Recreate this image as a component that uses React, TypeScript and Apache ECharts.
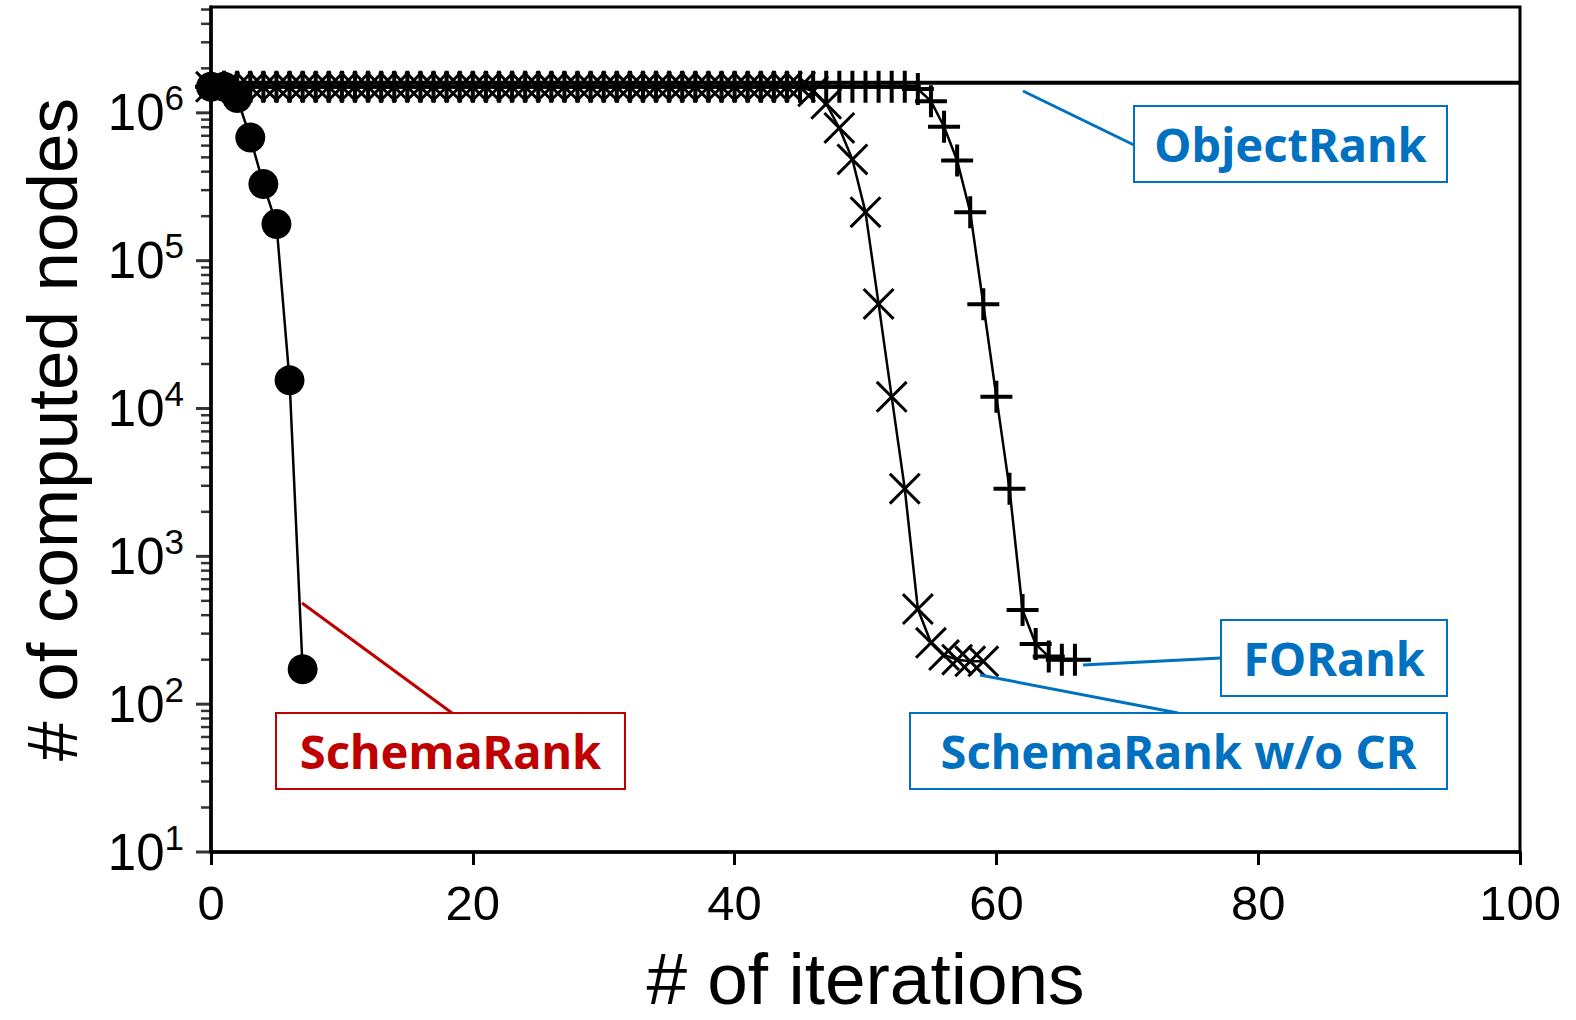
import React, { useEffect, useRef } from 'react';
import * as echarts from 'echarts';

// ---------- data ----------
const objectRankX = [0, 100];
const objectRankY = [1600000, 1600000];

const schemaRankX = [0, 1, 2, 3, 4, 5, 6, 7];
const schemaRankY = [1500000, 1500000, 1260000, 680000, 330000, 177000, 15500, 172];

const woCrX = [
  0, 1, 2, 3, 4, 5, 6, 7, 8, 9, 10, 11, 12, 13, 14, 15, 16, 17, 18, 19,
  20, 21, 22, 23, 24, 25, 26, 27, 28, 29, 30, 31, 32, 33, 34, 35, 36, 37, 38, 39,
  40, 41, 42, 43, 44, 45, 46, 47, 48, 49, 50, 51, 52, 53, 54, 55, 56, 57, 58, 59,
];
const woCrY = [
  1500000, 1500000, 1500000, 1500000, 1500000, 1500000, 1500000, 1500000, 1500000, 1500000,
  1500000, 1500000, 1500000, 1500000, 1500000, 1500000, 1500000, 1500000, 1500000, 1500000,
  1500000, 1500000, 1500000, 1500000, 1500000, 1500000, 1500000, 1500000, 1500000, 1500000,
  1500000, 1500000, 1500000, 1500000, 1500000, 1500000, 1500000, 1500000, 1500000, 1500000,
  1500000, 1500000, 1500000, 1500000, 1500000, 1500000, 1400000, 1150000, 790000, 484000,
  213000, 51000, 12000, 2870, 440, 260, 215, 200, 195, 195,
];

const foRankX = [
  0, 1, 2, 3, 4, 5, 6, 7, 8, 9, 10, 11, 12, 13, 14, 15, 16, 17, 18, 19,
  20, 21, 22, 23, 24, 25, 26, 27, 28, 29, 30, 31, 32, 33, 34, 35, 36, 37, 38, 39,
  40, 41, 42, 43, 44, 45, 46, 47, 48, 49, 50, 51, 52, 53, 54, 55, 56, 57, 58, 59,
  60, 61, 62, 63, 64, 65, 66,
];
const foRankY = [
  1500000, 1500000, 1500000, 1500000, 1500000, 1500000, 1500000, 1500000, 1500000, 1500000,
  1500000, 1500000, 1500000, 1500000, 1500000, 1500000, 1500000, 1500000, 1500000, 1500000,
  1500000, 1500000, 1500000, 1500000, 1500000, 1500000, 1500000, 1500000, 1500000, 1500000,
  1500000, 1500000, 1500000, 1500000, 1500000, 1500000, 1500000, 1500000, 1500000, 1500000,
  1500000, 1500000, 1500000, 1500000, 1500000, 1500000, 1500000, 1500000, 1500000, 1500000,
  1500000, 1500000, 1500000, 1500000, 1450000, 1200000, 805000, 476000, 213000, 50700,
  12000, 2870, 434, 255, 210, 200, 200,
];

const xTicks = [0, 20, 40, 60, 80, 100];
const yMajorTicks = [10, 100, 1000, 10000, 100000, 1000000];
const yMinorMultipliers = [2, 3, 4, 5, 6, 7, 8, 9];

const xTitle = '# of iterations';
const yTitle = '# of computed nodes';

// ---------- layout / styles ----------
const FONT = "'Liberation Sans', Arial, sans-serif";
const ANN_FONT = "'Noto Sans', 'Liberation Sans', sans-serif";
const BLUE = '#0070C0';
const RED = '#C00000';

const annotations = [
  { text: 'ObjectRank', color: BLUE, box: [1134, 106, 313, 76], line: [1023, 91, 1134, 145] },
  { text: 'FORank', color: BLUE, box: [1221, 620, 226, 76], line: [1083, 665, 1221, 658] },
  { text: 'SchemaRank w/o CR', color: BLUE, box: [910, 713, 537, 76], line: [980, 675, 1178, 713] },
  { text: 'SchemaRank', color: RED, box: [276, 713, 349, 76], line: [302, 603, 452, 713] },
];

const plusPath = 'path://M7,0H9V7H16V9H9V16H7V9H0V7H7Z';
const xPath =
  'path://M0,6.6L6.6,0L50,43.4L93.4,0L100,6.6L56.6,50L100,93.4L93.4,100L50,56.6L6.6,100L0,93.4L43.4,50Z';

const zip = (xs: number[], ys: number[]) => xs.map((x, i) => [x, ys[i]]);

function buildOption() {
  const majorTickData = yMajorTicks.map((m) => [0, m]);
  const minorTickData: number[][] = [];
  yMajorTicks.forEach((m) => yMinorMultipliers.forEach((k) => minorTickData.push([0, m * k])));

  const graphics: any[] = [];
  annotations.forEach((a) => {
    const [bx, by, bw, bh] = a.box;
    const [x1, y1, x2, y2] = a.line;
    graphics.push({
      type: 'line',
      z: 100,
      shape: { x1, y1, x2, y2 },
      style: { stroke: a.color, lineWidth: 3 },
    });
    graphics.push({
      type: 'rect',
      z: 100,
      shape: { x: bx, y: by, width: bw, height: bh },
      style: { fill: '#fff', stroke: a.color, lineWidth: 2 },
    });
    graphics.push({
      type: 'text',
      z: 101,
      x: bx + bw / 2,
      y: by + bh / 2,
      style: {
        text: a.text,
        fill: a.color,
        font: `bold 47px ${ANN_FONT}`,
        align: 'center',
        verticalAlign: 'middle',
      },
    });
  });

  return {
    animation: false,
    backgroundColor: '#fff',
    grid: {
      left: 211,
      top: 7,
      right: 56,
      bottom: 162,
      show: true,
      borderColor: '#000',
      borderWidth: 3,
      backgroundColor: 'transparent',
    },
    xAxis: {
      type: 'value',
      min: xTicks[0],
      max: xTicks[xTicks.length - 1],
      interval: xTicks[1] - xTicks[0],
      name: xTitle,
      nameLocation: 'middle',
      nameGap: 90,
      nameTextStyle: { fontSize: 73, fontFamily: FONT, color: '#000' },
      axisLine: { lineStyle: { color: '#000', width: 3.5 } },
      axisTick: { length: 13, lineStyle: { color: '#000', width: 3 } },
      axisLabel: { fontSize: 49, fontFamily: FONT, color: '#000', margin: 26 },
      splitLine: { show: false },
    },
    yAxis: {
      type: 'log',
      logBase: 10,
      min: 10,
      max: 5200000,
      name: yTitle,
      nameLocation: 'middle',
      nameGap: 123,
      nameRotate: 90,
      nameTextStyle: { fontSize: 71, fontFamily: FONT, color: '#000' },
      axisLine: { lineStyle: { color: '#000', width: 3.5 } },
      axisTick: { show: false },
      splitLine: { show: false },
      axisLabel: {
        margin: 27,
        formatter: (v: number) => {
          const e = Math.log10(v);
          const r = Math.round(e);
          if (Math.abs(e - r) > 1e-6) return '';
          return '{b|10}{s|' + r + '}';
        },
        rich: {
          b: { fontSize: 51, fontFamily: FONT, color: '#000' },
          s: { fontSize: 35, fontFamily: FONT, color: '#000', padding: [0, 0, 30, 0] },
        },
      },
    },
    series: [
      {
        name: 'ObjectRank',
        type: 'line',
        data: zip(objectRankX, objectRankY),
        showSymbol: false,
        lineStyle: { color: '#000', width: 4 },
        z: 2,
      },
      {
        name: 'FORank',
        type: 'line',
        data: zip(foRankX, foRankY),
        symbol: plusPath,
        symbolSize: 32,
        itemStyle: { color: '#000' },
        lineStyle: { color: '#000', width: 2.5 },
        z: 3,
      },
      {
        name: 'SchemaRank w/o CR',
        type: 'line',
        data: zip(woCrX, woCrY),
        symbol: xPath,
        symbolSize: 32,
        itemStyle: { color: '#000' },
        lineStyle: { color: '#000', width: 2.5 },
        z: 4,
      },
      {
        name: 'SchemaRank',
        type: 'line',
        data: zip(schemaRankX, schemaRankY),
        symbol: 'circle',
        symbolSize: 30,
        itemStyle: { color: '#000' },
        lineStyle: { color: '#000', width: 2.5 },
        z: 5,
      },
      {
        name: 'yMajorTicks',
        type: 'scatter',
        silent: true,
        clip: false,
        z: 10,
        data: majorTickData,
        symbol: 'rect',
        symbolSize: [14, 3],
        symbolOffset: [-8, 0],
        itemStyle: { color: '#000' },
      },
      {
        name: 'yMinorTicks',
        type: 'scatter',
        silent: true,
        clip: false,
        z: 10,
        data: minorTickData,
        symbol: 'rect',
        symbolSize: [9, 2.5],
        symbolOffset: [-5.5, 0],
        itemStyle: { color: '#000' },
      },
    ],
    graphic: graphics,
  };
}

export default function App() {
  const ref = useRef<HTMLDivElement>(null);
  useEffect(() => {
    const chart = echarts.init(ref.current!, null, { renderer: 'svg' });
    chart.setOption(buildOption() as any);
    return () => chart.dispose();
  }, []);
  return (
    <div
      ref={ref}
      style={{ position: 'fixed', left: 0, top: 0, width: 1576, height: 1020, background: '#fff' }}
    />
  );
}
